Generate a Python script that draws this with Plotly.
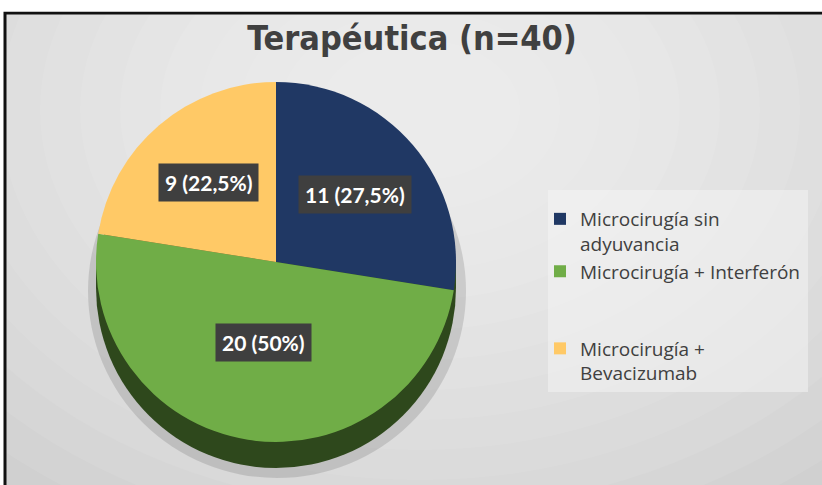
import math
import plotly.graph_objects as go

# ---- data ----
categories = ["Microcirugía sin<br>adyuvancia", "Microcirugía + Interferón<br> <br> ", "Microcirugía +<br>Bevacizumab"]
values = [11, 20, 9]
colors = ["#203864", "#70AD47", "#FFC966"]
title_text = "Terapéutica (n=40)"

W, H = 822, 485
total = sum(values)

def fmt_pct(v):
    p = round(v / total * 100, 1)
    s = ("%.1f" % p).rstrip("0").rstrip(".")
    return s.replace(".", ",")

label_texts = [f"{v} ({fmt_pct(v)}%)" for v in values]

# pie geometry (pixels)
cx, cy, r = 276, 262, 180
depth = 26
dom_x = [(cx - r) / W, (cx + r) / W]
dom_y = [1 - (cy + r) / H, 1 - (cy - r) / H]

fig = go.Figure()
fig.add_trace(go.Pie(
    labels=categories,
    values=values,
    marker=dict(colors=colors, line=dict(width=0)),
    sort=False,
    direction="clockwise",
    rotation=0,
    textinfo="none",
    hoverinfo="label+value+percent",
    domain=dict(x=dom_x, y=dom_y),
    showlegend=True,
))

shapes = []
# chart area background with soft radial-like gradient
shapes.append(dict(type="rect", xref="paper", yref="paper", x0=5 / W, x1=1.02, y0=-0.02, y1=1 - 13 / H,
                   fillcolor="#c9c9c9", line=dict(width=0), layer="below"))
n_rings = 16
for i in range(n_rings):
    sx = 700 - i * 40
    sy = 520 - i * 30
    shapes.append(dict(type="circle", xref="paper", yref="paper",
                       x0=(420 - sx) / W, x1=(420 + sx) / W,
                       y0=1 - (110 + sy) / H, y1=1 - (110 - sy) / H,
                       fillcolor="rgba(255,255,255,0.075)", line=dict(width=0), layer="below"))
# frame
shapes.append(dict(type="rect", xref="paper", yref="paper", x0=5 / W, x1=1.02, y0=-0.02, y1=1 - 13 / H,
                   fillcolor="rgba(0,0,0,0)", line=dict(color="#111111", width=3), layer="below"))
# white strip above the frame
shapes.append(dict(type="rect", xref="paper", yref="paper", x0=0, x1=1, y0=1 - 11.5 / H, y1=1,
                   fillcolor="white", line=dict(width=0), layer="below"))

# shadow under the pie
shapes.append(dict(type="circle", xref="paper", yref="paper",
                   x0=(cx - r - 8) / W, x1=(cx + r + 10) / W,
                   y0=1 - (cy + r + depth + 10) / H, y1=1 - (cy - r + depth - 4) / H,
                   fillcolor="rgba(0,0,0,0.12)", line=dict(width=0), layer="below"))
# 3D side wall
shapes.append(dict(type="rect", xref="paper", yref="paper",
                   x0=dom_x[0], x1=dom_x[1], y0=1 - (cy + depth) / H, y1=1 - cy / H,
                   fillcolor="#3A5E24", line=dict(width=0), layer="below"))
shapes.append(dict(type="circle", xref="paper", yref="paper",
                   x0=dom_x[0], x1=dom_x[1], y0=dom_y[0] - depth / H, y1=dom_y[1] - depth / H,
                   fillcolor="#2E481C", line=dict(width=0), layer="below"))
# legend panel
shapes.append(dict(type="rect", xref="paper", yref="paper",
                   x0=548 / W, x1=808 / W, y0=1 - 392 / H, y1=1 - 190 / H,
                   fillcolor="rgba(245,245,245,0.5)", line=dict(width=0), layer="below"))

# data labels in dark boxes, placed at slice mid-angles
annotations = []
cum = 0
rad_frac = [0.58, 0.45, 0.58]
for v, t, f in zip(values, label_texts, rad_frac):
    mid = (cum + v / 2) / total * 2 * math.pi
    cum += v
    px = cx + math.sin(mid) * r * f
    py = cy - math.cos(mid) * r * f
    annotations.append(dict(
        x=px / W, y=1 - py / H, xref="paper", yref="paper", text=f"<b>{t}</b>",
        showarrow=False, font=dict(family="Lato, Carlito, Calibri, sans-serif", size=21, color="white"),
        bgcolor="#3F3F3F", borderpad=6, xanchor="center", yanchor="middle"))

fig.update_layout(
    width=W, height=H,
    margin=dict(l=0, r=0, t=0, b=0),
    paper_bgcolor="white",
    plot_bgcolor="white",
    title=dict(text=f"<b>{title_text}</b>", x=412 / W, xanchor="center", y=1 - 38 / H, yanchor="middle",
               font=dict(family="Liberation Sans Narrow, DejaVu Sans Condensed, Liberation Sans, sans-serif",
                         size=34, color="#404040")),
    legend=dict(x=540 / W, y=1 - 200 / H, xanchor="left", yanchor="top", valign="top",
                font=dict(family="Open Sans, sans-serif", size=19, color="#404040"),
                bgcolor="rgba(0,0,0,0)", itemsizing="constant", tracegroupgap=0),
    shapes=shapes,
    annotations=annotations,
)

fig.write_html("out.html", config={"displayModeBar": False},
               post_script="document.body.style.margin='0px';document.body.style.overflow='hidden';")
